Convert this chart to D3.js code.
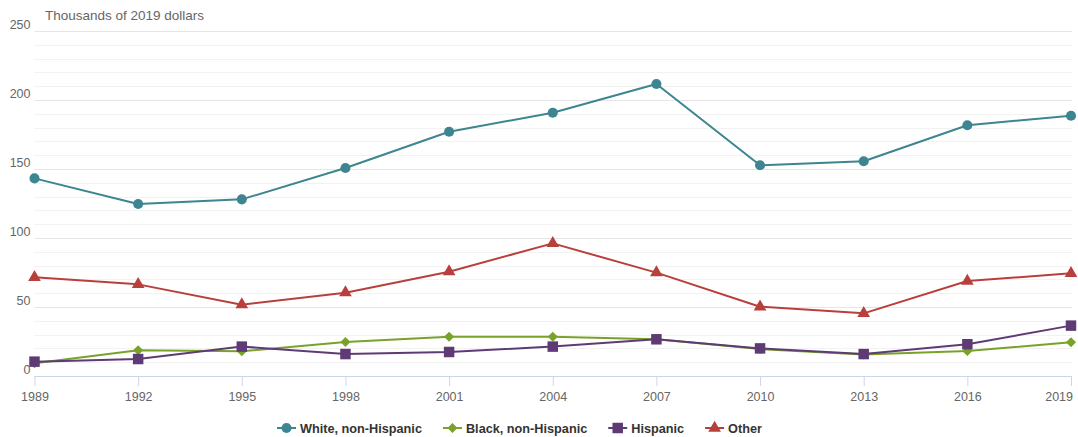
<!DOCTYPE html>
<html>
<head>
<meta charset="utf-8">
<script src="https://cdn.jsdelivr.net/npm/d3@7/dist/d3.min.js"></script>
<style>
  html, body { margin: 0; padding: 0; background: #fff; }
  svg { display: block; font-family: "Liberation Sans", Arial, Helvetica, sans-serif; }
</style>
</head>
<body>
<svg id="chart" width="1078" height="437"></svg>
<script>
// ---- data ----
const years = [1989, 1992, 1995, 1998, 2001, 2004, 2007, 2010, 2013, 2016, 2019];
const white = [143.2, 124.6, 128.0, 150.7, 177.0, 190.8, 211.6, 152.7, 155.6, 181.7, 188.6];
const black = [9.2, 18.6, 17.9, 24.6, 28.5, 28.5, 26.6, 19.5, 15.5, 18.1, 24.4];
const hispanic = [10.4, 12.3, 21.3, 15.9, 17.4, 21.3, 26.6, 20.0, 15.9, 23.0, 36.5];
const other = [71.5, 66.4, 51.7, 60.4, 75.6, 96.1, 74.9, 50.2, 45.4, 68.8, 74.4];
const seriesNames = ["White, non-Hispanic", "Black, non-Hispanic", "Hispanic", "Other"];
const yTicks = [0, 50, 100, 150, 200, 250];
const yTitle = "Thousands of 2019 dollars";

const colors = ["#3d8590", "#79a22b", "#5e3b74", "#b8403c"];
const symbols = [d3.symbolCircle, d3.symbolDiamond2, d3.symbolSquare, d3.symbolTriangle];
const symSizes = [80, 64, 110, 70];

const series = [white, black, hispanic, other].map((vals, i) => ({
  name: seriesNames[i], color: colors[i], symbol: symbols[i], size: symSizes[i],
  points: years.map((yr, j) => ({ year: yr, value: vals[j] }))
}));

const svg = d3.select("#chart");
const plotLeft = 34.5, plotRight = 1071, plotTop = 31, plotBottom = 376;

const x = d3.scaleLinear().domain([1989, 2019]).range([plotLeft, plotRight]);
const y = d3.scaleLinear().domain([0, 250]).range([plotBottom, plotTop]);

// minor grid (every 10)
svg.append("g").selectAll("line")
  .data(d3.range(0, 251, 10).filter(v => v % 50 !== 0))
  .join("line")
  .attr("x1", plotLeft).attr("x2", plotRight + 1)
  .attr("y1", d => Math.round(y(d)) + 0.5).attr("y2", d => Math.round(y(d)) + 0.5)
  .attr("stroke", "#f2f2f2").attr("stroke-width", 1);

// major grid
svg.append("g").selectAll("line")
  .data(yTicks.filter(v => v > 0))
  .join("line")
  .attr("x1", plotLeft).attr("x2", plotRight + 1)
  .attr("y1", d => Math.round(y(d)) + 0.5).attr("y2", d => Math.round(y(d)) + 0.5)
  .attr("stroke", "#e6e6e6").attr("stroke-width", 1);

// y axis labels
const yAxis = d3.axisLeft(y).tickValues(yTicks).tickSize(0).tickPadding(4);
const gy = svg.append("g").attr("transform", `translate(${plotLeft},0)`).call(yAxis);
gy.select(".domain").remove();
gy.selectAll("text")
  .attr("fill", "#666").attr("font-size", "12.5px")
  .attr("font-family", "'Liberation Sans', Arial, sans-serif")
  .attr("dy", "-0.2em");

// y title
svg.append("text")
  .attr("x", 45).attr("y", 20)
  .attr("fill", "#666").attr("font-size", "13.5px")
  .text(yTitle);

// x axis
const xAxis = d3.axisBottom(x).tickValues(years).tickFormat(d3.format("d")).tickSize(10).tickPadding(6);
const gx = svg.append("g").attr("transform", `translate(0,${plotBottom})`).call(xAxis);
gx.select(".domain").attr("stroke", "#ccd6eb").attr("d", `M${plotLeft},0.5H${plotRight + 1}`);
gx.selectAll(".tick line").attr("stroke", "#ccd6eb");
gx.selectAll("text")
  .attr("fill", "#666").attr("font-size", "12.5px")
  .attr("font-family", "'Liberation Sans', Arial, sans-serif")
  .attr("text-anchor", (d, i, n) => i === n.length - 1 ? "end" : "middle")
  .attr("dx", (d, i, n) => i === n.length - 1 ? "1.5" : "0");

// series
const line = d3.line().x(d => x(d.year)).y(d => y(d.value));
series.forEach(s => {
  const g = svg.append("g");
  g.append("path").datum(s.points)
    .attr("d", line).attr("fill", "none")
    .attr("stroke", s.color).attr("stroke-width", 2)
    .attr("stroke-linejoin", "round").attr("stroke-linecap", "round");
  g.selectAll("path.m").data(s.points).join("path")
    .attr("class", "m")
    .attr("transform", d => `translate(${x(d.year)},${y(d.value)})`)
    .attr("d", d3.symbol().type(s.symbol).size(s.size))
    .attr("fill", s.color);
});

// legend
const legend = svg.append("g");
let lx = 277;
const ly = 428;
series.forEach(s => {
  const item = legend.append("g").attr("transform", `translate(${lx},${ly})`);
  item.append("line").attr("x1", 0).attr("x2", 19).attr("y1", 0).attr("y2", 0)
    .attr("stroke", s.color).attr("stroke-width", 2);
  item.append("path").attr("transform", "translate(9.5,0)")
    .attr("d", d3.symbol().type(s.symbol).size(s.size)).attr("fill", s.color);
  const t = item.append("text").attr("x", 23).attr("y", 4.5)
    .attr("fill", "#333").attr("font-size", "12.7px").attr("font-weight", "bold")
    .text(s.name);
  lx += 23 + t.node().getComputedTextLength() + 21;
});
</script>
</body>
</html>
